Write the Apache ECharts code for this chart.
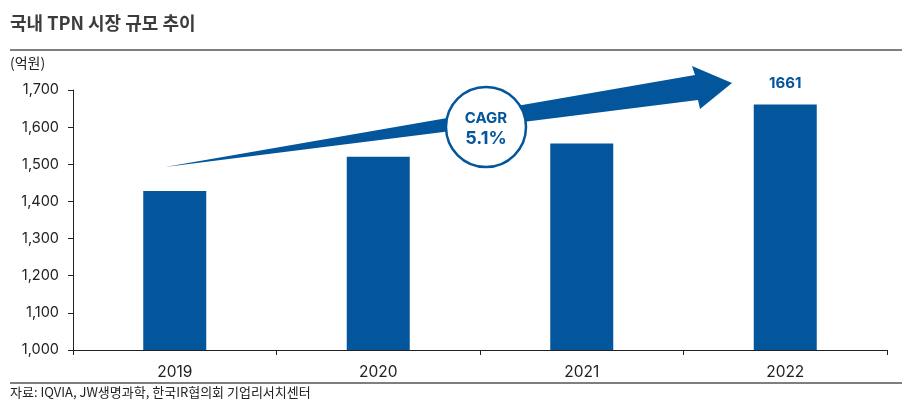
<!DOCTYPE html>
<html><head><meta charset="utf-8">
<script src="https://cdn.jsdelivr.net/npm/echarts@6/dist/echarts.min.js"></script>
<style>html,body{margin:0;padding:0;background:#fff}#c{width:902px;height:412px}</style>
</head><body><div id="c"></div>
<script>
const categories = ['2019', '2020', '2021', '2022'];
const marketSize = [1428, 1520, 1556, 1661];
const yTicks = [1000, 1100, 1200, 1300, 1400, 1500, 1600, 1700];
const cagrText = ['CAGR', '5.1%'];

const BLUE = '#03569c';
const chart = echarts.init(document.getElementById('c'), null, {renderer: 'canvas'});
const fmt = v => v.toLocaleString('en-US');
chart.setOption({
  animation: false,
  textStyle: {fontFamily: '"Noto Sans CJK KR", "Noto Sans", sans-serif'},
  grid: {left: 73, right: 15, top: 90, bottom: 62},
  xAxis: {
    type: 'category', data: categories,
    axisLine: {lineStyle: {color: '#222', width: 1}},
    axisTick: {show: true, length: 5, alignWithLabel: false, lineStyle: {color: '#222'}},
    axisLabel: {color: '#222', fontSize: 15.5, margin: 14, fontFamily: 'Inter, "Noto Sans", sans-serif'}
  },
  yAxis: {
    type: 'value', min: yTicks[0], max: yTicks[yTicks.length - 1], interval: 100,
    axisLine: {show: true, lineStyle: {color: '#222', width: 1}},
    axisTick: {show: true, length: 5, lineStyle: {color: '#222'}},
    splitLine: {show: false},
    axisLabel: {color: '#222', fontSize: 14.5, margin: 14, formatter: fmt, fontFamily: 'Inter, "Noto Sans", sans-serif'}
  },
  series: [{
    type: 'bar', data: marketSize, barWidth: 63,
    itemStyle: {color: BLUE},
    label: {
      show: true, position: 'top', distance: 14,
      color: BLUE, fontWeight: 'bold', fontSize: 15, fontFamily: 'Inter, "Noto Sans", sans-serif',
      formatter: p => p.dataIndex === marketSize.length - 1 ? String(p.value) : ''
    }
  }],
  graphic: [
    {type: 'text', left: 10, top: 14, style: {text: '국내 TPN 시장 규모 추이', fill: '#3c3c3c', font: 'bold 18px "Noto Sans CJK KR", sans-serif'}},
    {type: 'line', shape: {x1: 10, y1: 50, x2: 902, y2: 50}, style: {stroke: '#7f7f7f', lineWidth: 2}},
    {type: 'text', left: 10, top: 56, style: {text: '(억원)', fill: '#222', font: '14px "Noto Sans CJK KR", sans-serif'}},
    {type: 'line', shape: {x1: 10, y1: 383, x2: 902, y2: 383}, style: {stroke: '#7f7f7f', lineWidth: 2}},
    {type: 'text', left: 10, top: 386, style: {text: '자료: IQVIA, JW생명과학, 한국IR협의회 기업리서치센터', fill: '#222', font: '13px "Noto Sans CJK KR", sans-serif'}},
    {type: 'polygon', z: 10, shape: {points: [[165, 167], [695, 75], [692, 66], [732, 83], [700, 109], [698, 100]]}, style: {fill: BLUE}},
    {type: 'circle', z: 11, shape: {cx: 486, cy: 127, r: 40}, style: {fill: '#fff', stroke: BLUE, lineWidth: 2.5}},
    {type: 'text', z: 12, x: 486, y: 118, style: {text: cagrText[0], fill: BLUE, align: 'center', verticalAlign: 'middle', font: 'bold 15px Inter, "Noto Sans", sans-serif'}},
    {type: 'text', z: 12, x: 486, y: 139, style: {text: cagrText[1], fill: BLUE, align: 'center', verticalAlign: 'middle', font: 'bold 18px Inter, "Noto Sans", sans-serif'}}
  ]
});
</script></body></html>
